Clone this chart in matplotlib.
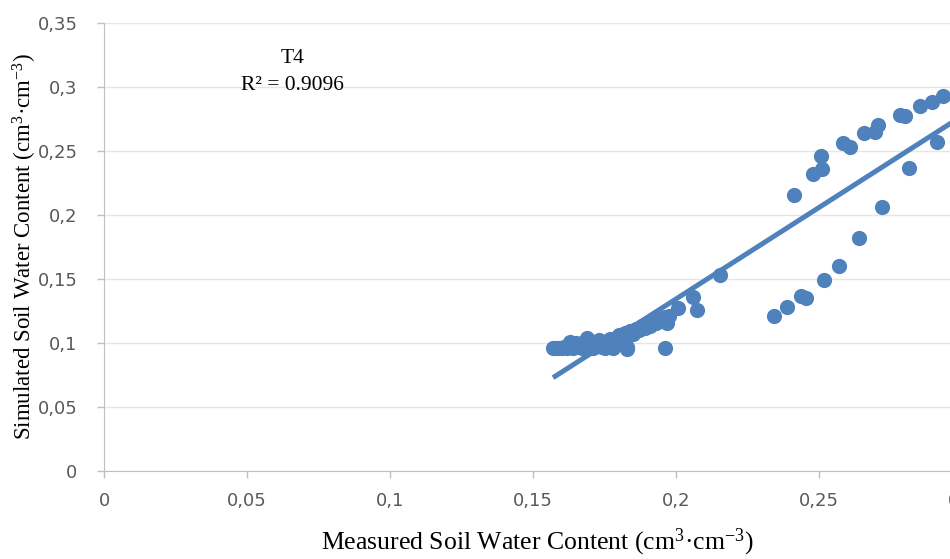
import matplotlib
matplotlib.use('Agg')
import matplotlib.pyplot as plt
import numpy as np

# measured vs simulated soil water content, treatment T4
measured = [
    0.157, 0.158, 0.159, 0.160, 0.161, 0.162, 0.163, 0.164, 0.165, 0.166,
    0.167, 0.168, 0.169, 0.170, 0.171, 0.172, 0.173, 0.174, 0.175, 0.176,
    0.177, 0.178, 0.179, 0.180, 0.181, 0.182, 0.183, 0.184, 0.185, 0.186,
    0.187, 0.188, 0.189, 0.190, 0.191, 0.192, 0.193, 0.194, 0.195, 0.196,
    0.197, 0.1975, 0.183, 0.196, 0.2007, 0.206, 0.2073, 0.2154,
    0.2341, 0.2388, 0.2437, 0.2455, 0.2519, 0.2569, 0.2641, 0.2719,
    0.2813, 0.2914, 0.2411, 0.248, 0.251, 0.2506, 0.2583, 0.2608,
    0.2657, 0.2697, 0.2705, 0.2783, 0.2801, 0.2853, 0.2895, 0.2934,
    0.305,
]
simulated = [
    0.096, 0.096, 0.096, 0.096, 0.097, 0.096, 0.101, 0.096, 0.100, 0.097,
    0.096, 0.101, 0.104, 0.098, 0.096, 0.100, 0.102, 0.097, 0.096, 0.101,
    0.103, 0.096, 0.104, 0.106, 0.099, 0.108, 0.097, 0.109, 0.107, 0.111,
    0.110, 0.113, 0.112, 0.115, 0.113, 0.117, 0.116, 0.119, 0.118, 0.120,
    0.116, 0.121, 0.095, 0.096, 0.127, 0.136, 0.126, 0.153,
    0.121, 0.128, 0.137, 0.135, 0.149, 0.160, 0.182, 0.206,
    0.237, 0.257, 0.216, 0.232, 0.236, 0.246, 0.256, 0.253,
    0.264, 0.265, 0.270, 0.278, 0.277, 0.285, 0.288, 0.293,
    0.300,
]
label_name = 'T4'
r2_text = 'R\u00b2 = 0.9096'
xticks = [0, 0.05, 0.1, 0.15, 0.2, 0.25, 0.3]
yticks = [0, 0.05, 0.1, 0.15, 0.2, 0.25, 0.3, 0.35]

blue = '#4f81bd'
grey_txt = '#595959'

plt.rcParams['mathtext.fontset'] = 'custom'
plt.rcParams['mathtext.rm'] = 'Liberation Serif'
plt.rcParams['mathtext.it'] = 'Liberation Serif:italic'

fig = plt.figure(figsize=(9.5, 5.59), dpi=100)
# the plot area runs past the right edge of the picture (cropped chart)
ax = fig.add_axes([104 / 950, 88 / 559, 1001 / 950, 448 / 559])

ax.scatter(measured, simulated, s=120, color=blue, zorder=3, linewidths=0)

# linear trend line over the measured range
x = np.array(measured)
slope, intercept = np.polyfit(x, np.array(simulated), 1)
xl = np.array([x.min(), x.max()])
ax.plot(xl, slope * xl + intercept, color=blue, linewidth=3.6, zorder=2,
        solid_capstyle='butt')

ax.set_xlim(0, 0.35)
ax.set_ylim(0, 0.35)
ax.set_xticks(xticks)
ax.set_yticks(yticks)
fmt = lambda v: ('%g' % v).replace('.', ',')
ax.set_xticklabels([fmt(v) for v in xticks])
ax.set_yticklabels([fmt(v) for v in yticks])
ax.tick_params(axis='both', colors='#bfbfbf', labelcolor=grey_txt,
               labelsize=13, length=5, width=1)
ax.tick_params(axis='x', pad=10)
ax.tick_params(axis='y', pad=14)

ax.grid(True, axis='y', color='#e6e6e6', linewidth=1)
ax.set_axisbelow(True)
for side in ['top', 'right']:
    ax.spines[side].set_visible(False)
ax.spines['left'].set_color('#bfbfbf')
ax.spines['bottom'].set_color('#bfbfbf')

# axis titles placed on the figure (chart is cropped on the right)
fig.text(537 / 950, 17 / 559,
         'Measured Soil Water Content (cm$^{3}$\u00b7cm$^{-3}$)',
         family='Liberation Serif', fontsize=18.5, ha='center', va='center')
fig.text(25 / 950, 313 / 559,
         'Simulated Soil Water Content (cm$^{3}$\u00b7cm$^{-3}$)',
         family='Liberation Serif', fontsize=16.5, ha='center', va='center',
         rotation=90)

ax.text(0.0658, 0.322, label_name, family='Liberation Serif', fontsize=15.5,
        ha='center', va='center')
ax.text(0.0658, 0.301, r2_text, family='Liberation Serif', fontsize=15.5,
        ha='center', va='center')

fig.savefig('out.png', dpi=100)
